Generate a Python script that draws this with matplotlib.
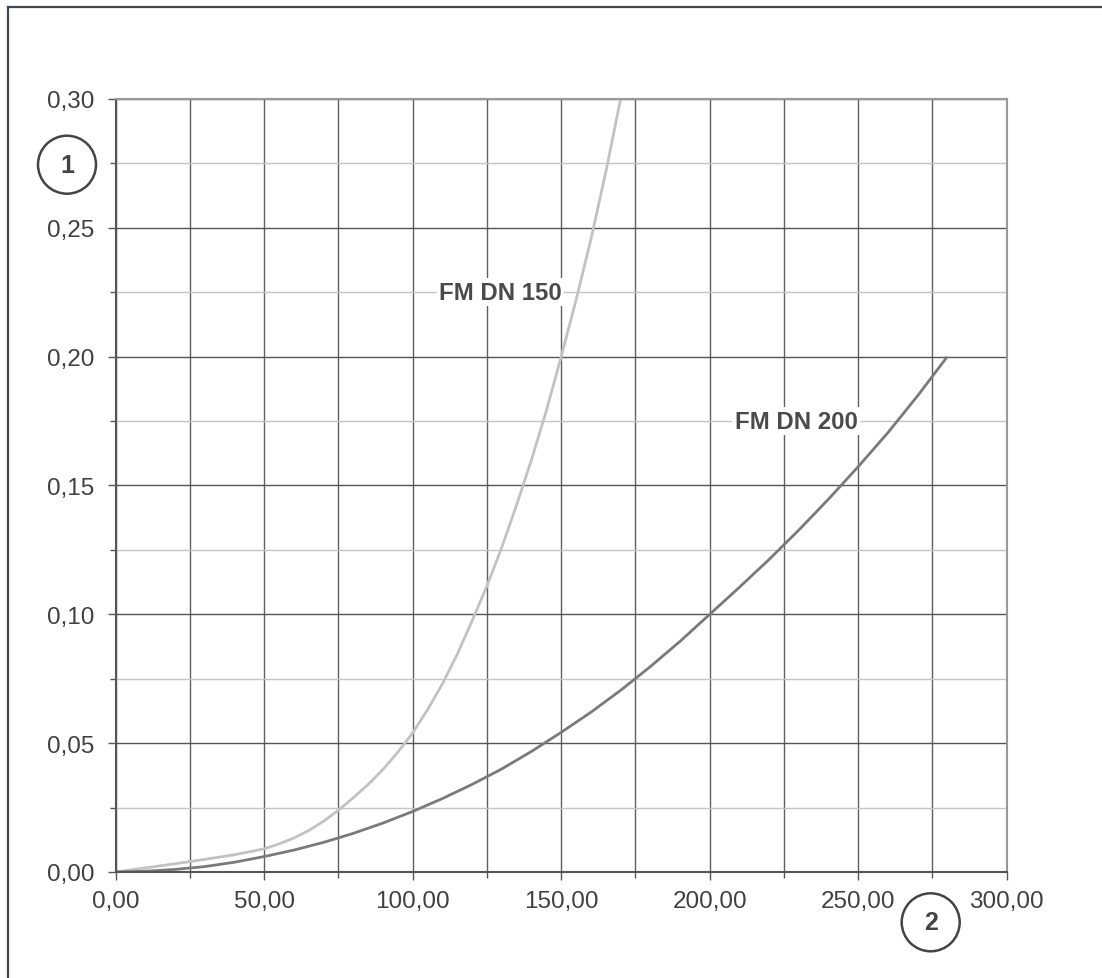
import numpy as np
import matplotlib
matplotlib.use("Agg")
import matplotlib.pyplot as plt
from matplotlib.patches import Ellipse
from matplotlib.lines import Line2D
from matplotlib.ticker import MultipleLocator, FuncFormatter

plt.rcParams['font.family'] = ['Liberation Sans', 'DejaVu Sans']

# data
x_dn150 = [0, 10, 20, 30, 40, 50, 55, 60, 65, 70, 75, 80, 85, 90, 95, 100, 105, 110, 115,
           120, 125, 130, 135, 140, 145, 150, 155, 160, 165, 170]
y_dn150 = [0, 0.0016, 0.0032, 0.0049, 0.0067, 0.0090, 0.0109, 0.0132, 0.0161, 0.0197,
           0.0240, 0.0288, 0.0340, 0.0398, 0.0465, 0.0540, 0.0630, 0.0730, 0.0845, 0.0975,
           0.1110, 0.1260, 0.1425, 0.1600, 0.1790, 0.2000, 0.2220, 0.2455, 0.2715, 0.3000]

x_dn200 = [0, 10, 20, 30, 40, 50, 60, 70, 80, 90, 100, 110, 120, 130, 140, 150, 160,
           170, 180, 190, 200, 210, 220, 230, 240, 250, 260, 270, 280]
y_dn200 = [0, 0.0003, 0.0010, 0.0021, 0.0038, 0.0060, 0.0085, 0.0115, 0.0150, 0.0190,
           0.0235, 0.0285, 0.0340, 0.0400, 0.0468, 0.0542, 0.0620, 0.0705, 0.0797,
           0.0895, 0.1000, 0.1105, 0.1213, 0.1327, 0.1447, 0.1573, 0.1705, 0.1848, 0.2000]

label_dn150 = "FM DN 150"
label_dn200 = "FM DN 200"

W, H = 1102, 979
fig = plt.figure(figsize=(W / 100, H / 100), dpi=100)
ax = fig.add_axes([115.7 / W, 1 - 873 / H, (1006.7 - 115.7) / W, (873 - 100) / H])

# gitter
ax.set_xlim(0, 300)
ax.set_ylim(0, 0.30)
ax.xaxis.set_major_locator(MultipleLocator(50))
ax.xaxis.set_minor_locator(MultipleLocator(25))
ax.yaxis.set_major_locator(MultipleLocator(0.05))
ax.yaxis.set_minor_locator(MultipleLocator(0.025))
ax.grid(which='both', axis='x', color='#606060', linewidth=1.0)
ax.grid(which='major', axis='y', color='#555555', linewidth=1.0)
ax.grid(which='minor', axis='y', color='#c4c4c4', linewidth=1.0)
ax.set_axisbelow(True)

komma = FuncFormatter(lambda v, p: f"{v:.2f}".replace(".", ","))
ax.xaxis.set_major_formatter(komma)
ax.yaxis.set_major_formatter(komma)

ax.tick_params(which='major', length=5.8, width=1, color='#555555',
               labelsize=17.5, labelcolor='#404040')
ax.tick_params(which='minor', length=4.3, width=1, color='#555555')
ax.tick_params(axis='x', which='major', pad=7)
ax.tick_params(axis='y', which='major', pad=9.5)

for s in ['left', 'bottom']:
    ax.spines[s].set_color('#555555')
    ax.spines[s].set_linewidth(1.5)
for s in ['top', 'right']:
    ax.spines[s].set_color('#999999')
    ax.spines[s].set_linewidth(1.5)

# kurven
ax.plot(x_dn150, y_dn150, color='#c2c2c2', linewidth=2.0, solid_capstyle='butt')
ax.plot(x_dn200, y_dn200, color='#7a7a7a', linewidth=2.0, solid_capstyle='butt')

box = dict(boxstyle='square,pad=0.1', facecolor='white', edgecolor='none')
ax.text(129.6, 0.225, label_dn150, ha='center', va='center', fontsize=17.3,
        fontweight='bold', color='#4a4a4a', bbox=box)
ax.text(229.1, 0.175, label_dn200, ha='center', va='center', fontsize=17.3,
        fontweight='bold', color='#4a4a4a', bbox=box)

# nummerierte kreise
r = 29
for cx, cy, nr in [(67, 165.7, "1"), (930.7, 923.3, "2")]:
    fig.add_artist(Ellipse((cx / W, 1 - cy / H), 2 * r / W, 2 * r / H,
                           facecolor='white', edgecolor='#444444', linewidth=1.8,
                           transform=fig.transFigure))
    fig.text(cx / W, 1 - cy / H, nr, ha='center', va='center', fontsize=18,
             fontweight='bold', color='#444444')

# rahmen links und oben
fig.add_artist(Line2D([7.5 / W, 7.5 / W], [0, 1 - 7.5 / H], color='#3d4a54',
                      linewidth=1.6, transform=fig.transFigure))
fig.add_artist(Line2D([7.5 / W, 1], [1 - 7.5 / H, 1 - 7.5 / H], color='#3d4a54',
                      linewidth=1.6, transform=fig.transFigure))

fig.savefig("out.png", dpi=100)
